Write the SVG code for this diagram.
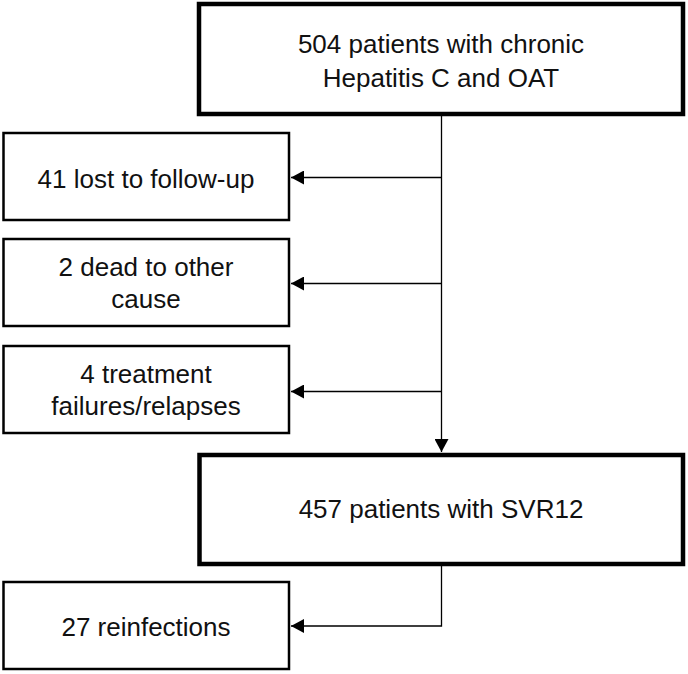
<svg xmlns="http://www.w3.org/2000/svg" width="688" height="674" viewBox="0 0 688 674">
<defs>
<style>
.thick{fill:#fff;stroke:#000;stroke-width:4.5}
.thin{fill:#fff;stroke:#000;stroke-width:2.5}
.t{font-family:"Liberation Sans",Arial,sans-serif;font-size:26px;fill:#111;text-anchor:middle}
.c{fill:none;stroke:#000;stroke-width:1.3}
</style>
<marker id="ah" markerUnits="userSpaceOnUse" markerWidth="14" markerHeight="14" viewBox="0 0 14 14" refX="13" refY="7" orient="auto">
<path d="M0,0 L13,7 L0,14 Z" fill="#000"/>
</marker>
</defs>
<rect width="688" height="674" fill="#fff"/>
<g id="connectors">
<line class="c" x1="441.5" y1="115" x2="441.5" y2="452" marker-end="url(#ah)"/>
<line class="c" x1="441.5" y1="177.5" x2="291" y2="177.5" marker-end="url(#ah)"/>
<line class="c" x1="441.5" y1="283.5" x2="291" y2="283.5" marker-end="url(#ah)"/>
<line class="c" x1="441.5" y1="391.5" x2="291" y2="391.5" marker-end="url(#ah)"/>
<polyline class="c" points="441.5,566 441.5,626 291,626" marker-end="url(#ah)"/>
</g>
<g id="n504">
<rect class="thick" x="199" y="4" width="484" height="110"/>
<text class="t" x="441" y="53">504 patients with chronic</text>
<text class="t" x="441" y="87">Hepatitis C and OAT</text>
</g>
<g id="n41">
<rect class="thin" x="3.5" y="133" width="285.5" height="87"/>
<text class="t" x="146" y="188">41 lost to follow-up</text>
</g>
<g id="n2">
<rect class="thin" x="3.5" y="239" width="285.5" height="87"/>
<text class="t" x="146" y="276">2 dead to other</text>
<text class="t" x="146" y="308">cause</text>
</g>
<g id="n4">
<rect class="thin" x="3.5" y="346" width="285.5" height="87"/>
<text class="t" x="146" y="383">4 treatment</text>
<text class="t" x="146" y="415">failures/relapses</text>
</g>
<g id="n457">
<rect class="thick" x="199.5" y="455" width="483.5" height="109"/>
<text class="t" x="441" y="518">457 patients with SVR12</text>
</g>
<g id="n27">
<rect class="thin" x="3.5" y="582" width="285.5" height="87"/>
<text class="t" x="146" y="636">27 reinfections</text>
</g>
</svg>
